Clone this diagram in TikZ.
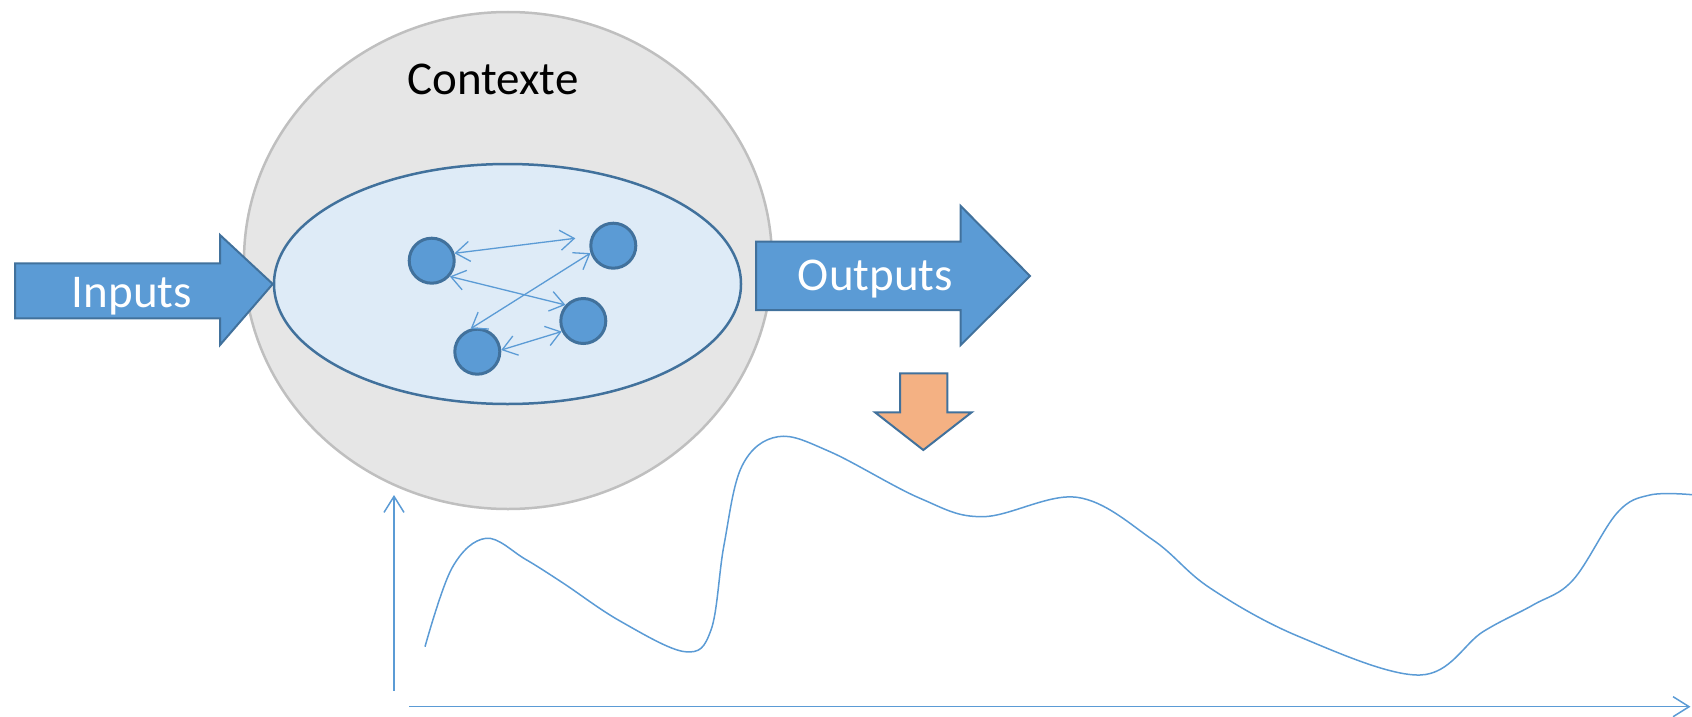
\documentclass[tikz,border=0pt]{standalone}
\usepackage{fontspec}
\setmainfont{Carlito}
\usetikzlibrary{shapes.geometric,arrows.meta,calc}
\definecolor{bluefill}{HTML}{5B9BD5}
\definecolor{bluedark}{HTML}{41719C}
\definecolor{palefill}{HTML}{DEEBF7}
\definecolor{grayfill}{HTML}{E6E6E6}
\definecolor{grayline}{HTML}{BFBFBF}
\definecolor{orangefill}{HTML}{F4B183}
\begin{document}
\begin{tikzpicture}[x=1pt,y=-1pt,
  bigtext/.style={font=\fontsize{47}{56}\selectfont, inner sep=0},
  dot/.style={circle, fill=bluefill, draw=bluedark, line width=3pt, minimum size=45pt, inner sep=0},
  link/.style={draw=bluefill, line width=1.3pt, {Straight Barb[length=14pt,width=20pt]}-{Straight Barb[length=14pt,width=20pt]}},
  axisline/.style={draw=bluefill, line width=1.5pt, -{Straight Barb[length=16pt,width=20pt]}},
  blockarrow/.style={draw=bluedark, line width=2pt, line join=miter},
  ]
\path[use as bounding box] (0,0) rectangle (1692,717);
% context
\node[ellipse, fill=grayfill, draw=grayline, line width=2.5pt, minimum width=528pt, minimum height=497pt, inner sep=0] (ctx) at (508,260.5) {};
\node[bigtext, anchor=base] (ctxlabel) at (493,95) {Contexte};
% system
\node[ellipse, fill=palefill, draw=bluedark, line width=2.5pt, minimum width=467pt, minimum height=240pt, inner sep=0] (sys) at (507.5,284) {};
% inputs
\coordinate (intip) at (sys.west);
\path[blockarrow, fill=bluefill] (15,263.3) -- (220,263.3) -- (220,235) -- (intip) -- (220,345) -- (220,318.3) -- (15,318.3) -- cycle;
\node[bigtext, text=white, anchor=base] (inlabel) at (132,307) {Inputs};
% outputs
\path[blockarrow, fill=bluefill] (756,241.7) -- (960.7,241.7) -- (960.7,206) -- (1030,276) -- (960.7,345) -- (960.7,310) -- (756,310) -- cycle;
\node[bigtext, text=white, anchor=base] (outlabel) at (875.5,290) {Outputs};
% orange down arrow
\path[blockarrow, fill=orangefill] (900,373.3) -- (947.3,373.3) -- (947.3,412.3) -- (971.7,412.3) -- (923.3,450) -- (875,412.3) -- (900,412.3) -- cycle;
% elements
\node[dot] (c1) at (431.7,260.7) {};
\node[dot] (c2) at (613.3,245.7) {};
\node[dot] (c3) at (583.3,321) {};
\node[dot] (c4) at (477.3,351.7) {};
\draw[link] (c1.18) -- ($(c2.center)+(-38,-7.4)$);
\draw[link] (c1.-41) -- (c3.138);
\draw[link] (c4.106) -- (c2.198);
\draw[link] (c4.4) -- (c3.206);
% axes
\coordinate (yaxbot) at (394,690.7);
\coordinate (yaxtop) at (394,495);
\coordinate (xaxleft) at (409.3,706.7);
\coordinate (xaxright) at (1690.5,706.7);
\draw[axisline] (yaxbot) -- (yaxtop);
\draw[axisline] (xaxleft) -- (xaxright);
% curve
\draw[bluefill, line width=1.5pt] plot[smooth, tension=0.6] coordinates {
 (425,646.7) (452,568) (486,538.3) (525,559) (563,583) (620,621) (685,651.7) (711,630)
 (724,545) (742,466) (778,436.7) (830,451.7) (920,498.3) (983,516.7) (1077,497.3) (1153,540)
 (1210,588) (1300,637) (1420,675) (1483,631.7) (1533,605) (1573,580)
 (1617,513) (1650,495) (1692,494.7)};
\end{tikzpicture}
\end{document}
